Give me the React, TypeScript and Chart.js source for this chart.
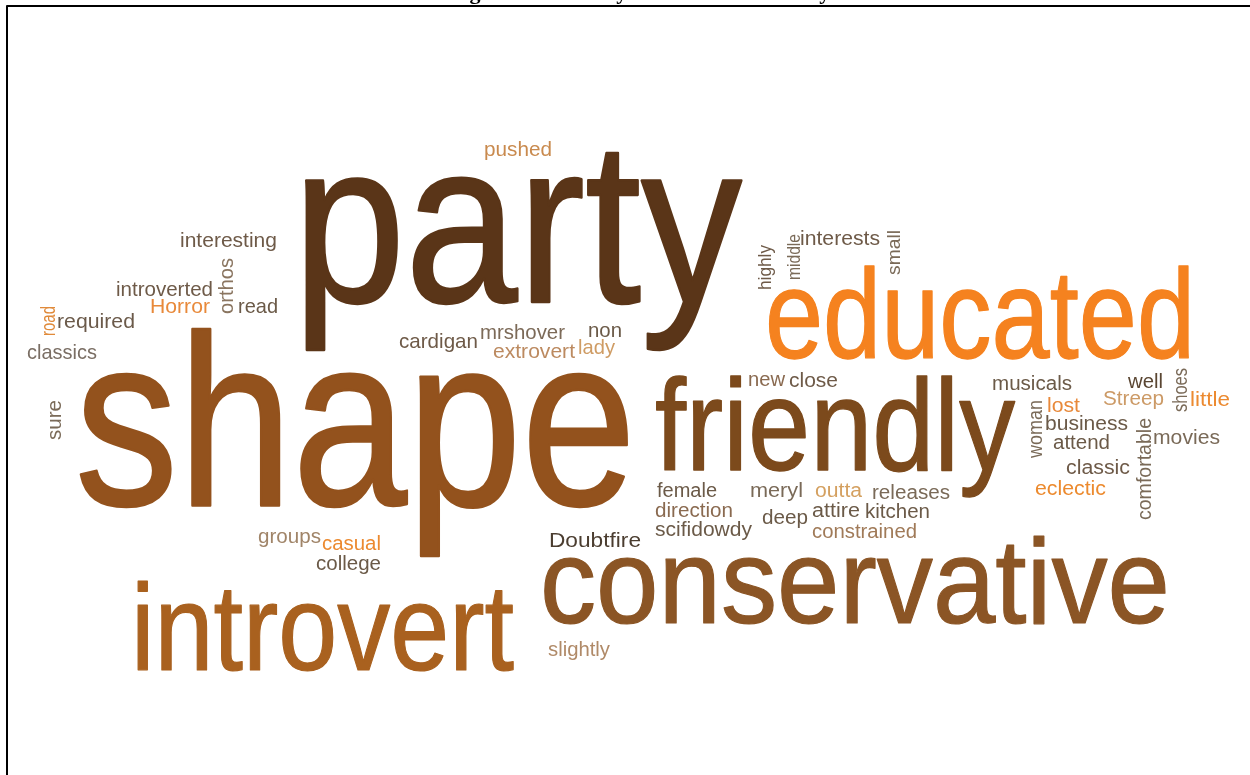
import React, { useEffect, useRef } from "react";
import { Chart, registerables } from "chart.js";

Chart.register(...registerables);

// ---- data: words and their weights (font size in px) ----
const WORDS = [
  "party", "shape", "educated", "friendly", "conservative", "introvert",
  "pushed", "interesting", "interests", "introverted", "Horror", "read", "required", "classics",
  "cardigan", "mrshover", "non", "extrovert", "lady", "new", "close", "musicals", "well",
  "Streep", "little", "lost", "business", "movies", "attend", "classic", "eclectic",
  "female", "meryl", "outta", "releases", "direction", "deep", "attire", "kitchen",
  "scifidowdy", "constrained", "Doubtfire", "groups", "casual", "college", "slightly",
  "highly", "middle", "small", "orthos", "road", "sure", "shoes", "woman", "comfortable",
];
const WEIGHTS = [
  230, 243, 126, 130, 120, 123,
  21, 21, 20, 20, 20, 21, 21, 21,
  21, 21, 21, 21, 21, 20, 20, 20, 20,
  20, 20, 20, 20, 20, 20, 20, 20,
  20, 20, 20, 20, 20, 20, 20, 20,
  20, 20, 21, 20, 20, 20, 20,
  19, 19, 19, 20, 20, 20, 20, 20, 20,
];

// ---- layout of the cloud (word start on the baseline, length of the word) ----
const LAYOUT_X = [
  293, 75, 765, 655, 540, 131,
  484, 180, 800, 116, 150, 238, 57, 27,
  399, 480, 588, 493, 578, 748, 789, 992, 1128,
  1103, 1190, 1047, 1045, 1153, 1053, 1066, 1035,
  657, 750, 815, 872, 655, 762, 812, 865,
  655, 812, 549, 258, 322, 316, 548,
  771, 800, 900, 233, 55, 61, 1187, 1042, 1151,
];
const LAYOUT_Y = [
  302, 505, 358, 470, 623, 670,
  156, 247, 245, 296, 313, 313, 328, 359,
  348, 339, 337, 358, 354, 386, 387, 390, 388,
  405, 406, 412, 430, 444, 449, 474, 495,
  497, 497, 497, 499, 517, 524, 517, 518,
  536, 538, 547, 543, 550, 570, 656,
  290, 280, 275, 314, 336, 440, 412, 458, 520,
];
const LAYOUT_SPAN = [
  449, 561, 430, 360, 630, 383,
  68, 97, 80, 97, 60, 40, 78, 70,
  79, 85, 34, 82, 37, 37, 49, 80, 35,
  61, 40, 33, 83, 67, 57, 64, 71,
  60, 53, 47, 78, 78, 46, 48, 65,
  97, 105, 92, 63, 59, 65, 62,
  45, 46, 45, 56, 30, 40, 44, 58, 102,
];
const VERTICAL = [
  0, 0, 0, 0, 0, 0,
  0, 0, 0, 0, 0, 0, 0, 0,
  0, 0, 0, 0, 0, 0, 0, 0, 0,
  0, 0, 0, 0, 0, 0, 0, 0,
  0, 0, 0, 0, 0, 0, 0, 0,
  0, 0, 0, 0, 0, 0, 0,
  1, 1, 1, 1, 1, 1, 1, 1, 1,
];
const COLORS = [
  "#5a3518", "#93521d", "#f5821f", "#7c4a1c", "#8b5525", "#a9611f",
  "#c98a4e", "#6e5a48", "#6e5a48", "#6e5a48", "#e8893a", "#6b5a48", "#6b5a4a", "#7a6e64",
  "#6e5a48", "#7c6a58", "#6b5a48", "#bc8a60", "#cf9c64", "#8a6a50", "#6e5a48", "#6b5a48", "#5a4632",
  "#cc9a66", "#ec8a30", "#e8893a", "#6b5a48", "#7a6a58", "#6b5a48", "#6e5a48", "#ec8a2e",
  "#6b5a48", "#7a6a58", "#d4a060", "#7a6a58", "#8a6a50", "#6b5a48", "#6b5a48", "#6b5a48",
  "#6b5a48", "#a07a58", "#4b3d30", "#a08468", "#ec8a30", "#6b5a48", "#b08a68",
  "#6e5a48", "#7a6a58", "#7a6a58", "#8a7560", "#e08a3a", "#7a6a58", "#7a6a58", "#7a6a58", "#7a6a58",
];

const TITLE = "Word Cloud Showing Traits of Every Student in this Study";
const FONT = "'Liberation Sans', Arial, sans-serif";

const cloudPlugin = {
  id: "cloud",
  afterDatasetsDraw(chart: any) {
    const ctx = chart.ctx as CanvasRenderingContext2D;
    const meta = chart.getDatasetMeta(0);
    ctx.save();
    ctx.textBaseline = "alphabetic";
    ctx.textAlign = "left";
    ctx.lineJoin = "round";
    meta.data.forEach((el: any, i: number) => {
      const size = WEIGHTS[i];
      ctx.font = `${size}px ${FONT}`;
      const w = ctx.measureText(WORDS[i]).width;
      const sx = LAYOUT_SPAN[i] / w;
      ctx.save();
      ctx.translate(el.x, el.y);
      if (VERTICAL[i]) ctx.rotate(-Math.PI / 2);
      ctx.scale(sx, 1);
      ctx.fillStyle = COLORS[i];
      ctx.fillText(WORDS[i], 0, 0);
      if (size > 60) {
        ctx.strokeStyle = COLORS[i];
        ctx.lineWidth = size * 0.01;
        ctx.strokeText(WORDS[i], 0, 0);
      }
      ctx.restore();
    });
    // frame
    ctx.strokeStyle = "#000";
    ctx.lineWidth = 2;
    ctx.beginPath();
    ctx.moveTo(7, 775);
    ctx.lineTo(7, 6);
    ctx.lineTo(1250, 6);
    ctx.stroke();
    // title (mostly above the visible area)
    ctx.font = `bold 22px 'Liberation Serif', 'Times New Roman', serif`;
    ctx.fillStyle = "#000";
    const pre = ctx.measureText("Word Cloud Showin").width;
    const gw = ctx.measureText("g").width;
    ctx.fillText(TITLE, 475 - pre - gw / 2, -1);
    ctx.restore();
  },
};

export default function App() {
  const ref = useRef<HTMLCanvasElement | null>(null);
  useEffect(() => {
    if (!ref.current) return;
    const chart = new Chart(ref.current, {
      type: "scatter",
      data: {
        datasets: [
          {
            data: WORDS.map((_, i) => ({ x: LAYOUT_X[i], y: LAYOUT_Y[i] })),
            pointRadius: 0,
            pointHoverRadius: 0,
          },
        ],
      },
      options: {
        animation: false,
        responsive: false,
        devicePixelRatio: 1,
        layout: { padding: 0 },
        plugins: { legend: { display: false }, tooltip: { enabled: false }, title: { display: false } },
        scales: {
          x: { type: "linear", min: 0, max: 1250, display: false },
          y: { type: "linear", min: 0, max: 775, reverse: true, display: false },
        },
      },
      plugins: [cloudPlugin],
    });
    return () => chart.destroy();
  }, []);
  return (
    <div style={{ position: "fixed", left: 0, top: 0, width: 1250, height: 775, background: "#fff" }}>
      <canvas ref={ref} width={1250} height={775} />
    </div>
  );
}
